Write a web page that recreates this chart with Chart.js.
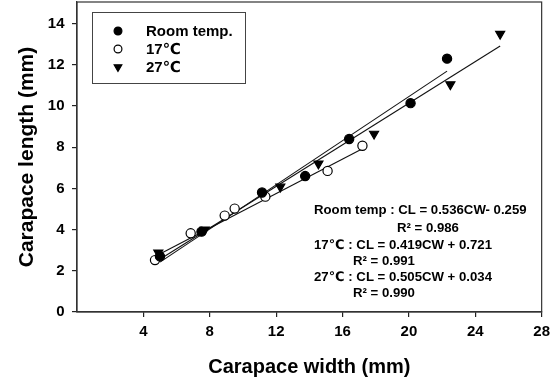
<!DOCTYPE html>
<html>
<head>
<meta charset="utf-8">
<script src="https://cdn.jsdelivr.net/npm/chart.js@4/dist/chart.umd.min.js"></script>
<style>
html,body{margin:0;padding:0;background:#fff;}
#wrap{width:556px;height:381px;position:relative;}
</style>
</head>
<body>
<div id="wrap"><canvas id="c" width="556" height="381"></canvas></div>
<script>
// ---- data ----
const seriesNames = ['Room temp.', '17\u2103', '27\u2103'];
const roomX = [5.0, 7.5, 11.15, 13.75, 16.4, 20.1, 22.3];
const roomY = [2.7, 3.9, 5.8, 6.6, 8.4, 10.14, 12.3];
const t17X = [4.7, 6.85, 8.9, 9.5, 11.35, 15.1, 17.2];
const t17Y = [2.52, 3.82, 4.68, 5.02, 5.6, 6.85, 8.07];
const t27X = [4.9, 7.7, 12.25, 14.55, 17.9, 22.5, 25.5];
const t27Y = [2.88, 4.0, 6.08, 7.2, 8.65, 11.05, 13.5];
// regression equations shown on the chart
const slopes = [0.536, 0.419, 0.505];
const intercepts = [-0.259, 0.721, 0.034];
const fitRangeX = [[5.0, 22.3], [4.7, 17.2], [4.9, 25.5]];
const equationLines = [
  'Room temp : CL = 0.536CW- 0.259',
  'R\u00B2 = 0.986',
  '17\u2103 : CL = 0.419CW + 0.721',
  'R\u00B2 = 0.991',
  '27\u2103 : CL = 0.505CW + 0.034',
  'R\u00B2 = 0.990'
];
const xTicks = [4, 8, 12, 16, 20, 24, 28];
const yTicks = [0, 2, 4, 6, 8, 10, 12, 14];

const FONT = "'Liberation Sans', Arial, 'DejaVu Sans', sans-serif";

function pts(xs, ys){ return xs.map((x,i)=>({x:x, y:ys[i]})); }
function fitLine(k){
  return fitRangeX[k].map(x=>({x:x, y:slopes[k]*x + intercepts[k]}));
}

const markerStyles = [
  {pointStyle:'circle', bg:'#000', border:'#000', radius:4.6, rot:0},
  {pointStyle:'circle', bg:'#fff', border:'#000', radius:4.6, rot:0},
  {pointStyle:'triangle', bg:'#000', border:'#000', radius:5.2, rot:180}
];

const scatterData = [pts(roomX, roomY), pts(t17X, t17Y), pts(t27X, t27Y)];

const datasets = [];
for (let k=0;k<3;k++){
  datasets.push({
    type:'line', label:'fit'+k, data:fitLine(k),
    borderColor:'#111', borderWidth:1.1, pointRadius:0, fill:false, order:2
  });
}
for (let k=0;k<3;k++){
  const m = markerStyles[k];
  datasets.push({
    type:'scatter', label:seriesNames[k], data:scatterData[k],
    pointStyle:m.pointStyle, pointRadius:m.radius, pointRotation:m.rot,
    backgroundColor:m.bg, borderColor:m.border, borderWidth:1.2, order:1
  });
}

const framePlugin = {
  id:'frame',
  afterDraw(chart){
    const {ctx, chartArea:a} = chart;
    ctx.save();
    ctx.strokeStyle = '#333';
    ctx.lineWidth = 1.2;
    ctx.strokeRect(a.left, a.top, a.right-a.left, a.bottom-a.top);
    ctx.restore();
  }
};

const legendPlugin = {
  id:'boxLegend',
  afterDraw(chart){
    const {ctx, chartArea:a} = chart;
    const bx = a.left + 15, by = a.top + 10, bw = 153, bh = 71;
    ctx.save();
    ctx.fillStyle = '#fff';
    ctx.fillRect(bx, by, bw, bh);
    ctx.strokeStyle = '#444';
    ctx.lineWidth = 1;
    ctx.strokeRect(bx+0.5, by+0.5, bw, bh);
    ctx.font = 'bold 15px ' + FONT;
    ctx.textBaseline = 'middle';
    for (let k=0;k<3;k++){
      const ds = chart.data.datasets[3+k];
      const y = by + 19 + k*18;
      ctx.fillStyle = ds.backgroundColor;
      ctx.strokeStyle = ds.borderColor;
      ctx.lineWidth = ds.borderWidth;
      Chart.helpers.drawPoint(ctx, {
        pointStyle: ds.pointStyle, rotation: ds.pointRotation,
        radius: ds.pointRadius*0.85, borderWidth: ds.borderWidth
      }, bx + 26, y);
      ctx.fillStyle = '#000';
      ctx.fillText(ds.label, bx + 54, y + 1);
    }
    ctx.restore();
  }
};

const eqPlugin = {
  id:'equations',
  afterDraw(chart){
    const {ctx, chartArea:a} = chart;
    ctx.save();
    ctx.font = 'bold 13.2px ' + FONT;
    ctx.fillStyle = '#000';
    ctx.textBaseline = 'middle';
    const lx = a.left + 237;
    const pos = [
      [lx, 210], [a.left + 320, 228], [lx, 245], [a.left + 276, 261], [lx, 277], [a.left + 276, 293]
    ];
    equationLines.forEach((t,i)=>{ ctx.fillText(t, pos[i][0], pos[i][1]); });
    ctx.restore();
  }
};

new Chart(document.getElementById('c'), {
  data:{datasets:datasets},
  options:{
    responsive:false, animation:false,
    layout:{autoPadding:false, padding:{top:2, right:13, left:0, bottom:0}},
    plugins:{legend:{display:false}, tooltip:{enabled:false}},
    scales:{
      x:{
        type:'linear', min:0, max:28,
        afterFit(s){ s.height = 69; },
        afterBuildTicks(s){ s.ticks = xTicks.map(v=>({value:v})); },
        ticks:{font:{family:FONT, weight:'bold', size:15}, color:'#000', padding:6, maxRotation:0},
        grid:{display:true, drawOnChartArea:false, drawTicks:true, tickLength:5, color:'#222', lineWidth:1.2},
        border:{display:true, color:'#333', width:1.2},
        title:{display:true, text:'Carapace width (mm)', color:'#000',
               font:{family:FONT, weight:'bold', size:20}, padding:{top:0,bottom:2}}
      },
      y:{
        type:'linear', min:0, max:15.05,
        afterFit(s){ s.width = 77; },
        afterBuildTicks(s){ s.ticks = yTicks.map(v=>({value:v})); },
        ticks:{font:{family:FONT, weight:'bold', size:15, lineHeight:0.2}, color:'#000', padding:0,
               callback:(v)=> v + '\u2002'},
        grid:{display:true, drawOnChartArea:false, drawTicks:true, tickLength:5, color:'#222', lineWidth:1.2},
        border:{display:true, color:'#333', width:1.2},
        title:{display:true, text:'Carapace length (mm)', color:'#000',
               font:{family:FONT, weight:'bold', size:21}, padding:{top:15,bottom:0}}
      }
    }
  },
  plugins:[framePlugin, legendPlugin, eqPlugin]
});
</script>
</body>
</html>
